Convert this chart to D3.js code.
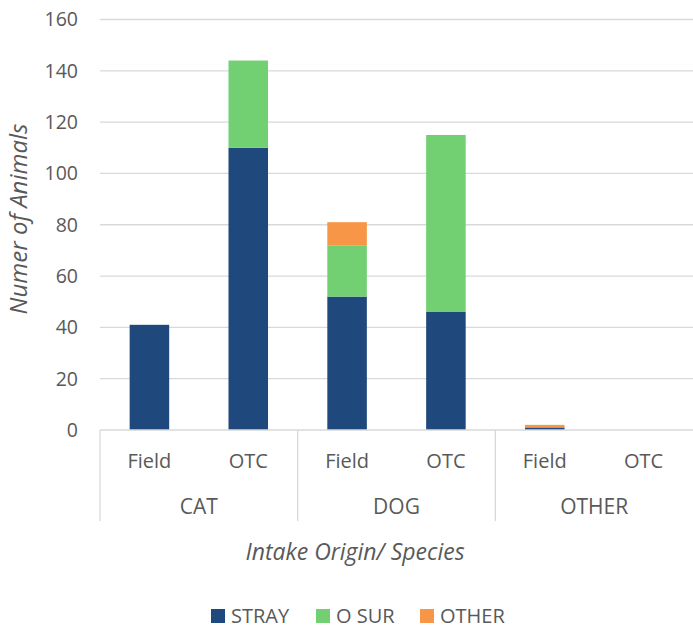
<!DOCTYPE html>
<html>
<head>
<meta charset="utf-8">
<script src="https://cdn.jsdelivr.net/npm/d3@7"></script>
<style>
  body { margin: 0; background: #fff; }
  text { font-family: "Open Sans", sans-serif; fill: #595959; }
</style>
</head>
<body>
<svg id="chart" width="693" height="629"></svg>
<script>
// data
const species = ["CAT", "DOG", "OTHER"];
const origins = ["Field", "OTC"];
const seriesNames = ["STRAY", "O SUR", "OTHER"];
const stray = [41, 110, 52, 46, 1, 0];
const oSur  = [0, 34, 20, 69, 0, 0];
const other = [0, 0, 9, 0, 1, 0];
const yTicks = [0, 20, 40, 60, 80, 100, 120, 140, 160];
const colors = ["#1f497d", "#72d072", "#f79646"];

const svg = d3.select("#chart");
const plotLeft = 100, plotRight = 693, plotTop = 19.5, plotBottom = 430;

// flat rows: one per species/origin pair
let rows = [];
species.forEach(function(s, i) {
  origins.forEach(function(o, j) {
    let k = i * origins.length + j;
    rows.push({key: s + "|" + o, species: s, origin: o, "STRAY": stray[k], "O SUR": oSur[k], "OTHER": other[k]});
  });
});

const x = d3.scaleBand().domain(rows.map(d => d.key)).range([plotLeft, plotRight]).paddingInner(0.6).paddingOuter(0.3);
const xGroup = d3.scaleBand().domain(species).range([plotLeft, plotRight]);
const y = d3.scaleLinear().domain([0, 160]).range([plotBottom, plotTop]);

// gridlines
svg.append("g").selectAll("line")
  .data(yTicks.filter(t => t > 0))
  .enter().append("line")
  .attr("x1", plotLeft).attr("x2", plotRight)
  .attr("y1", d => y(d)).attr("y2", d => y(d))
  .attr("stroke", "#d9d9d9").attr("stroke-width", 1.3);

// y tick labels
svg.append("g").selectAll("text")
  .data(yTicks)
  .enter().append("text")
  .attr("x", 78).attr("y", d => y(d))
  .attr("dy", "0.35em")
  .attr("text-anchor", "end")
  .style("font-size", "19.5px")
  .text(d => d);

// stacked bars
const stack = d3.stack().keys(seriesNames)(rows);
svg.append("g").selectAll("g")
  .data(stack)
  .enter().append("g")
  .attr("fill", (d, i) => colors[i])
  .selectAll("rect")
  .data(d => d)
  .enter().append("rect")
  .attr("x", d => x(d.data.key))
  .attr("width", x.bandwidth())
  .attr("y", d => y(d[1]))
  .attr("height", d => y(d[0]) - y(d[1]));

// category axis
const axisG = svg.append("g").attr("stroke", "#d9d9d9").attr("stroke-width", 1.3);
axisG.append("line").attr("x1", plotLeft).attr("x2", plotRight).attr("y1", plotBottom).attr("y2", plotBottom);
axisG.selectAll(".div")
  .data(species)
  .enter().append("line")
  .attr("x1", d => xGroup(d)).attr("x2", d => xGroup(d))
  .attr("y1", plotBottom).attr("y2", 521);

svg.append("g").selectAll("text")
  .data(rows)
  .enter().append("text")
  .attr("x", d => x(d.key) + x.bandwidth() / 2)
  .attr("y", 468)
  .attr("text-anchor", "middle")
  .style("font-size", "20px")
  .text(d => d.origin);

svg.append("g").selectAll("text")
  .data(species)
  .enter().append("text")
  .attr("x", d => xGroup(d) + xGroup.bandwidth() / 2)
  .attr("y", 514)
  .attr("text-anchor", "middle")
  .style("font-size", "21px")
  .text(d => d);

// axis titles
svg.append("text")
  .attr("transform", "translate(27,219) rotate(-90)")
  .attr("text-anchor", "middle")
  .style("font-size", "24px").style("font-style", "italic")
  .text("Numer of Animals");

svg.append("text")
  .attr("x", 355).attr("y", 560)
  .attr("text-anchor", "middle")
  .style("font-size", "23px").style("font-style", "italic")
  .text("Intake Origin/ Species");

// legend
const legendX = [211, 316, 420];
const leg = svg.append("g").selectAll("g")
  .data(seriesNames)
  .enter().append("g")
  .attr("transform", (d, i) => "translate(" + legendX[i] + ",609)");
leg.append("rect").attr("width", 14).attr("height", 14).attr("fill", (d, i) => colors[i]);
leg.append("text").attr("x", 20).attr("y", 7).attr("dy", "0.35em")
  .style("font-size", "20px").text(d => d);
</script>
</body>
</html>
